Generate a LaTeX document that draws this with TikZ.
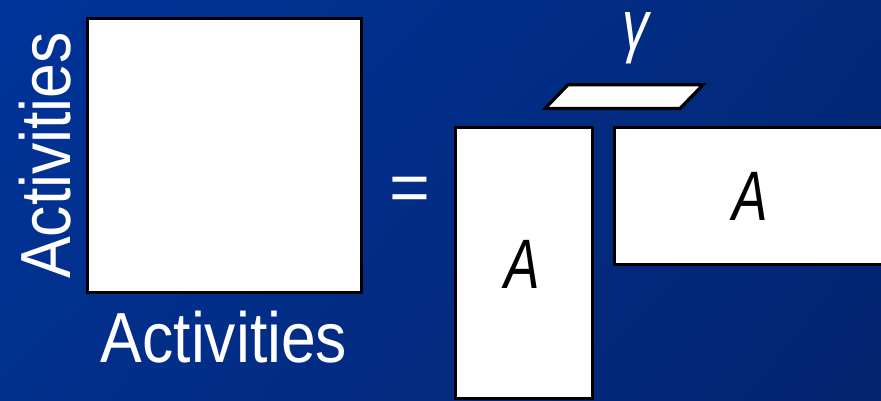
\documentclass[tikz,border=0pt]{standalone}
\usepackage{fontspec}
\usetikzlibrary{shadings}
\setmainfont{Liberation Sans}
\newfontfamily\condfont[FakeStretch=0.88]{Liberation Sans}
\newfontfamily\condAfont[FakeStretch=0.76]{Liberation Sans}
\definecolor{bgul}{HTML}{00339A}
\definecolor{bgur}{HTML}{022A7A}
\definecolor{bgll}{HTML}{01308C}
\definecolor{bglr}{HTML}{032470}
\tikzset{
  matbox/.style={draw=black, fill=white, line width=3.2pt},
  lbl/.style={text=white, inner sep=0pt, font=\condfont\fontsize{71}{71}\selectfont},
  alabel/.style={text=black, inner sep=0pt, font=\condAfont\itshape\fontsize{70}{70}\selectfont},
}
\begin{document}
\begin{tikzpicture}[x=1pt,y=-1pt]
\useasboundingbox (0,0) rectangle (881,400);
\clip (0,0) rectangle (881,400);
\shade[upper left=bgul, upper right=bgur, lower left=bgll, lower right=bglr] (0,0) rectangle (881,400);
% left square
\path[matbox] (87.5,18.2) rectangle (361.2,292.5);
\node[lbl, rotate=90, anchor=base] (ylab) at (70.7,155.5) {Activities};
\node[lbl, anchor=base] (xlab) at (224,362) {Activities};
% equals
\node[text=white, inner sep=0pt, font=\fontsize{70}{70}\selectfont] (eq) at (410,194) {=};
% factors
\path[matbox] (455.8,127.2) rectangle (592.8,398.5);
\path[matbox] (614.8,127.2) rectangle (895,264.2);
\path[matbox] (545,108.5) -- (568,84.8) -- (703,84.8) -- (680,108.5) -- cycle;
\node[alabel, anchor=base] (a1) at (522,288.7) {A};
\node[alabel, anchor=base] (a2) at (750,220.7) {A};
\node[alabel, text=white, anchor=base, text height=36pt, text depth=15pt] (g) at (636,49) {γ};
\end{tikzpicture}
\end{document}
